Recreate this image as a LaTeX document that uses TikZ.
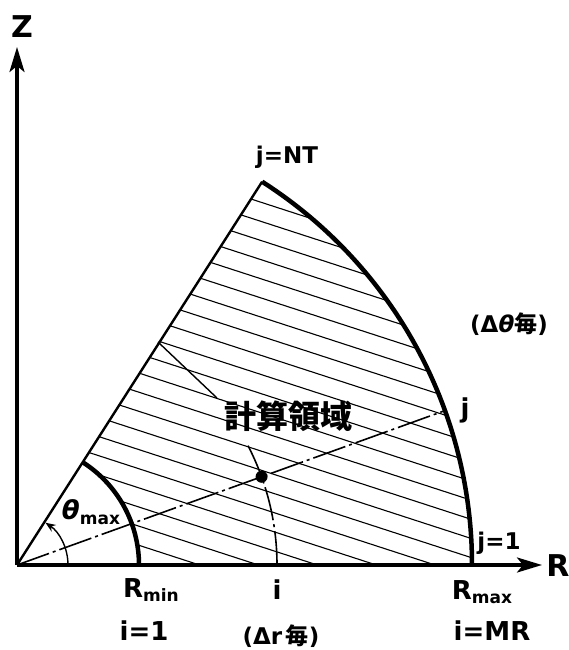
\documentclass[tikz,border=0pt]{standalone}
\usepackage{fontspec}
\setmainfont{DejaVu Sans}
\newfontfamily\jpfont{Noto Sans CJK JP}
\usetikzlibrary{arrows.meta,calc}
\begin{document}
\begin{tikzpicture}[x=1pt,y=-1pt,
  axis/.style={line width=3.2pt,-{Stealth[length=25pt,width=15pt,inset=6pt]}},
  bound/.style={line width=4.5pt},
  slant/.style={line width=2.4pt},
  hatch/.style={line width=1.1pt},
  dashdot/.style={line width=1.6pt,dash pattern=on 34pt off 4pt on 3pt off 4pt},
  thinline/.style={line width=1.4pt},
  lbl/.style={inner sep=0pt,font=\fontsize{26}{28}\selectfont\bfseries},
  small/.style={inner sep=0pt,font=\fontsize{23}{26}\selectfont\bfseries},
  big/.style={inner sep=0pt,font=\fontsize{30}{32}\selectfont\bfseries}]
\useasboundingbox (0,0) rectangle (569,650);
\coordinate (O) at (17,565);
\coordinate (zend) at (17,47);
\coordinate (rend) at (542,565);
\path (O) +(-57.4:455) coordinate (apex);
\path (O) +(-57.4:122) coordinate (ai);
\path (O) +(455,0) coordinate (rmax);
\path (O) +(122,0) coordinate (rmin);
\path (O) +(-19.84:455) coordinate (jpt);
\path (O) +(260,0) coordinate (ipt);
\path (O) +(51,0) coordinate (th0);
\coordinate (l1) at (158,342);
\coordinate (l2) at (217,398);
% hatching
\begin{scope}
\clip (rmin) -- (rmax) arc[start angle=0,end angle=-57.4,radius=455]
  -- (ai) arc[start angle=-57.4,end angle=0,radius=122] -- cycle;
\foreach \k in {0,...,21}{
  \pgfmathsetmacro\c{111.7+18.2*\k}
  \draw[hatch] ({-0.309*\c-0.951*700},{0.951*\c-0.309*700}) -- ({-0.309*\c+0.951*700},{0.951*\c+0.309*700});
}
\end{scope}
% axes
\draw[axis] (O) -- (zend);
\draw[axis] (O) -- (rend);
% boundaries
\draw[slant] (O) -- (apex);
\draw[bound] (rmax) arc[start angle=0,end angle=-57.4,radius=455];
\draw[bound] (rmin) arc[start angle=0,end angle=-57.4,radius=122];
% grid lines
\draw[dashdot] (O) -- (jpt);
\draw[dashdot] (ipt) arc[start angle=0,end angle=-28,radius=260];
\path (O) +(-19.84:260) node[circle,fill,inner sep=0pt,minimum size=12pt] (dot) {};
\draw[thinline,-{Stealth[length=10pt,width=8pt]}] (th0) arc[start angle=0,end angle=-56,radius=51];
\draw[thinline] (l1) -- (l2);
% labels
\node[big] (zl) at (22,27) {Z};
\node[big] (rl) at (558,566) {R};
\node[small] (jnt) at (287,157) {j=NT};
\node[small] (dth) at (509,324) {(Δ{\itshape θ}{\jpfont 毎})};
\node[lbl] (jl) at (465,410) {j};
\node[inner sep=0pt,font=\jpfont\bfseries\fontsize{32}{34}\selectfont] (keisan) at (288,416) {計算領域};
\node[small] (j1) at (499,543) {j=1};
\node[lbl] (rminl) at (151,590) {R\raisebox{-4pt}{\fontsize{17}{17}\selectfont\bfseries min}};
\node[lbl] (i1) at (144,631) {i=1};
\node[lbl] (il) at (277,590) {i};
\node[small] (dr) at (281,636) {(Δr\,{\jpfont 毎})};
\node[lbl] (rmaxl) at (482,592) {R\raisebox{-4pt}{\fontsize{17}{17}\selectfont\bfseries max}};
\node[lbl] (imr) at (492,631) {i=MR};
\node[lbl] (thl) at (91,512) {{\itshape θ}\raisebox{-5pt}{\fontsize{17}{17}\selectfont\bfseries max}};
\end{tikzpicture}
\end{document}
